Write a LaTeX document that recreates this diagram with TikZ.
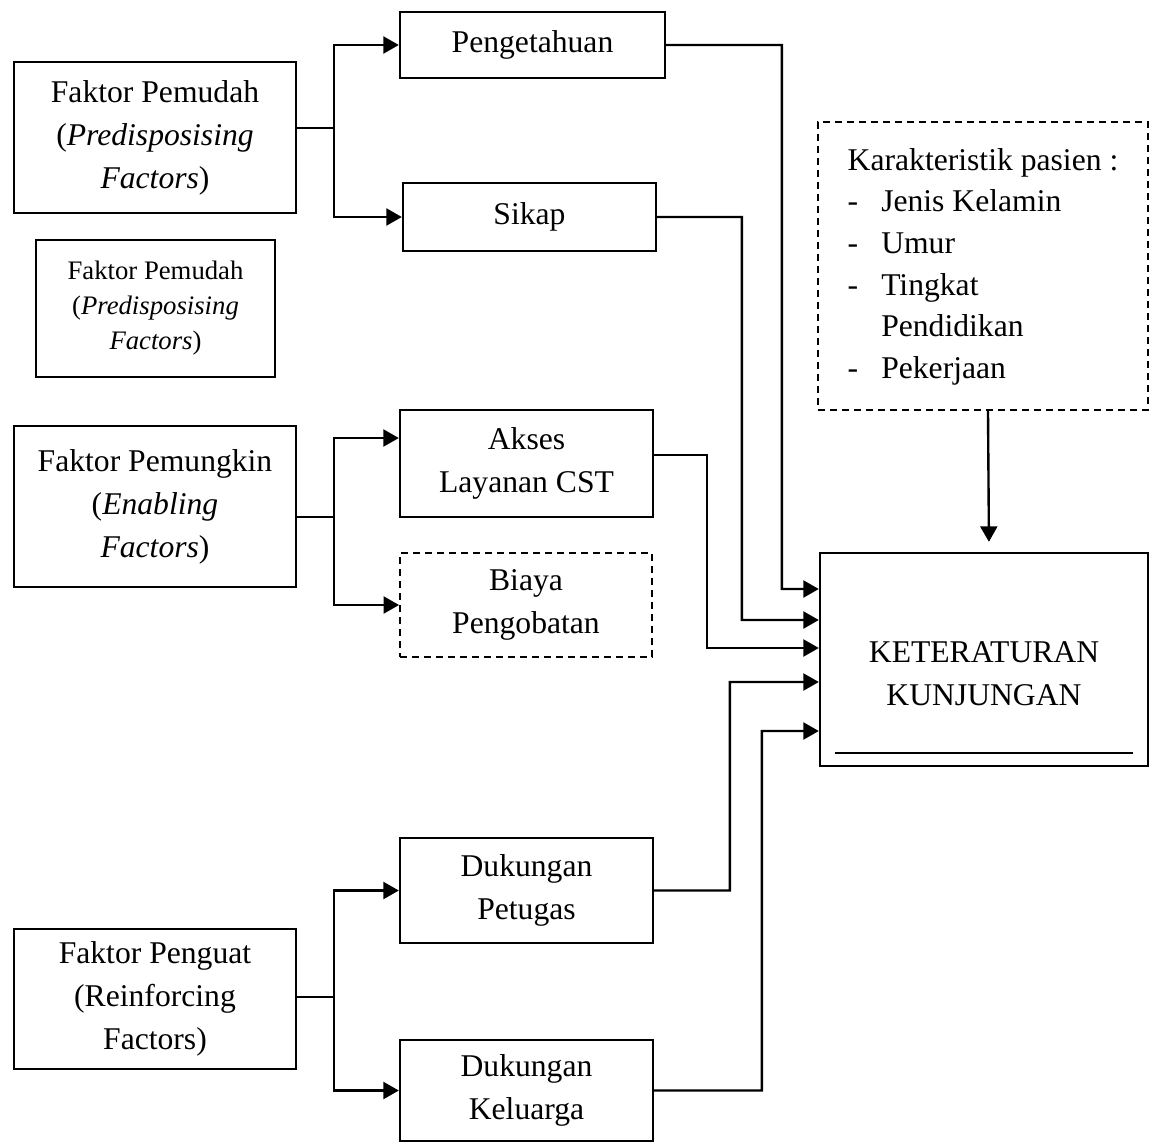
\documentclass[tikz,border=0pt]{standalone}
\usepackage{fontspec}
\setmainfont{Liberation Serif}
\usetikzlibrary{arrows.meta,calc}

\begin{document}
\begin{tikzpicture}[line width=1.35pt, >={Triangle[length=3.1mm,width=3.4mm]},
  kotak/.style={draw, rectangle, align=center, inner sep=0pt, font=\fontsize{18}{24.5}\selectfont},
  putus/.style={line width=1.1pt, dash pattern=on 1.4mm off 1mm}]
\useasboundingbox (0,0) rectangle (22.98,-22.86);
\node[kotak, minimum width=5.64cm, minimum height=3.02cm] (pemudah) at (3.10,-2.75) {Faktor Pemudah\\(\textit{Predisposising}\\\textit{Factors})};
\node[kotak, minimum width=4.78cm, minimum height=2.74cm, font=\fontsize{15.2}{19.9}\selectfont] (pemudah2) at (3.11,-6.17) {Faktor Pemudah\\(\textit{Predisposising}\\\textit{Factors})};
\node[kotak, minimum width=5.64cm, minimum height=3.22cm] (pemungkin) at (3.10,-10.13) {Faktor Pemungkin\\(\textit{Enabling}\\\textit{Factors})};
\node[kotak, minimum width=5.64cm, minimum height=2.80cm] (penguat) at (3.10,-19.98) {Faktor Penguat\\(Reinforcing\\Factors)};
\node[kotak, minimum width=5.30cm, minimum height=1.32cm] (peng) at (10.65,-0.90) {Pengetahuan};
\node[kotak, minimum width=5.06cm, minimum height=1.36cm] (sikap) at (10.59,-4.34) {Sikap};
\node[kotak, minimum width=5.06cm, minimum height=2.14cm] (akses) at (10.53,-9.27) {Akses\\Layanan CST};
\node[kotak, putus, minimum width=5.04cm, minimum height=2.08cm] (biaya) at (10.52,-12.10) {Biaya\\Pengobatan};
\node[kotak, minimum width=5.06cm, minimum height=2.10cm] (petugas) at (10.53,-17.81) {Dukungan\\Petugas};
\node[kotak, minimum width=5.06cm, minimum height=2.02cm] (keluarga) at (10.53,-21.81) {Dukungan\\Keluarga};
\node[kotak, putus, minimum width=6.60cm, minimum height=5.76cm] (karak) at (19.66,-5.32) {\fontsize{18}{23.7}\selectfont
  \begin{tabular}{@{}l@{\hspace{0.46cm}}l@{}}
  \multicolumn{2}{@{}l@{}}{Karakteristik pasien :}\\
  - & Jenis Kelamin\\
  - & Umur\\
  - & Tingkat\\
    & Pendidikan\\
  - & Pekerjaan
  \end{tabular}};
\node[kotak, minimum width=6.56cm, minimum height=4.26cm] (ket) at (19.68,-13.19) {};
\node[font=\fontsize{18}{24.5}\selectfont, align=center, inner sep=0pt] (kettxt) at (19.68,-13.48) {KETERATURAN\\KUNJUNGAN};
\draw ($(ket.south west)+(0.32,0.28)$) -- ($(ket.south east)+(-0.32,0.28)$);

\coordinate (j1) at (6.68,-2.56);
\coordinate (j2) at (6.68,-10.34);
\coordinate (j3) at (6.68,-19.94);
\draw (pemudah.east |- j1) -- (j1);
\draw[->] (j1) |- (peng.west);
\draw[->] (j1) |- (sikap.west);
\draw (pemungkin.east |- j2) -- (j2);
\draw[->] (j2) |- ([yshift=0.51cm]akses.west);
\draw[->] (j2) |- (biaya.west);
\draw (penguat.east |- j3) -- (j3);
\draw[->] (j3) |- (petugas.west);
\draw[->] (j3) |- (keluarga.west);

\draw[->] (peng.east) -| ($(ket.west)+(-0.74,1.41)$) -- ([yshift=1.41cm]ket.west);
\draw[->] (sikap.east) -| ($(ket.west)+(-1.54,0.79)$) -- ([yshift=0.79cm]ket.west);
\draw[->] ([yshift=0.17cm]akses.east) -| ($(ket.west)+(-2.24,0.23)$) -- ([yshift=0.23cm]ket.west);
\draw[->] (petugas.east) -| ($(ket.west)+(-1.78,-0.45)$) -- ([yshift=-0.45cm]ket.west);
\draw[->] (keluarga.east) -| ($(ket.west)+(-1.14,-1.43)$) -- ([yshift=-1.43cm]ket.west);
\draw[->, shorten >=2mm] ([xshift=1mm]karak.south) -- ([xshift=1mm]ket.north);
\end{tikzpicture}
\end{document}
